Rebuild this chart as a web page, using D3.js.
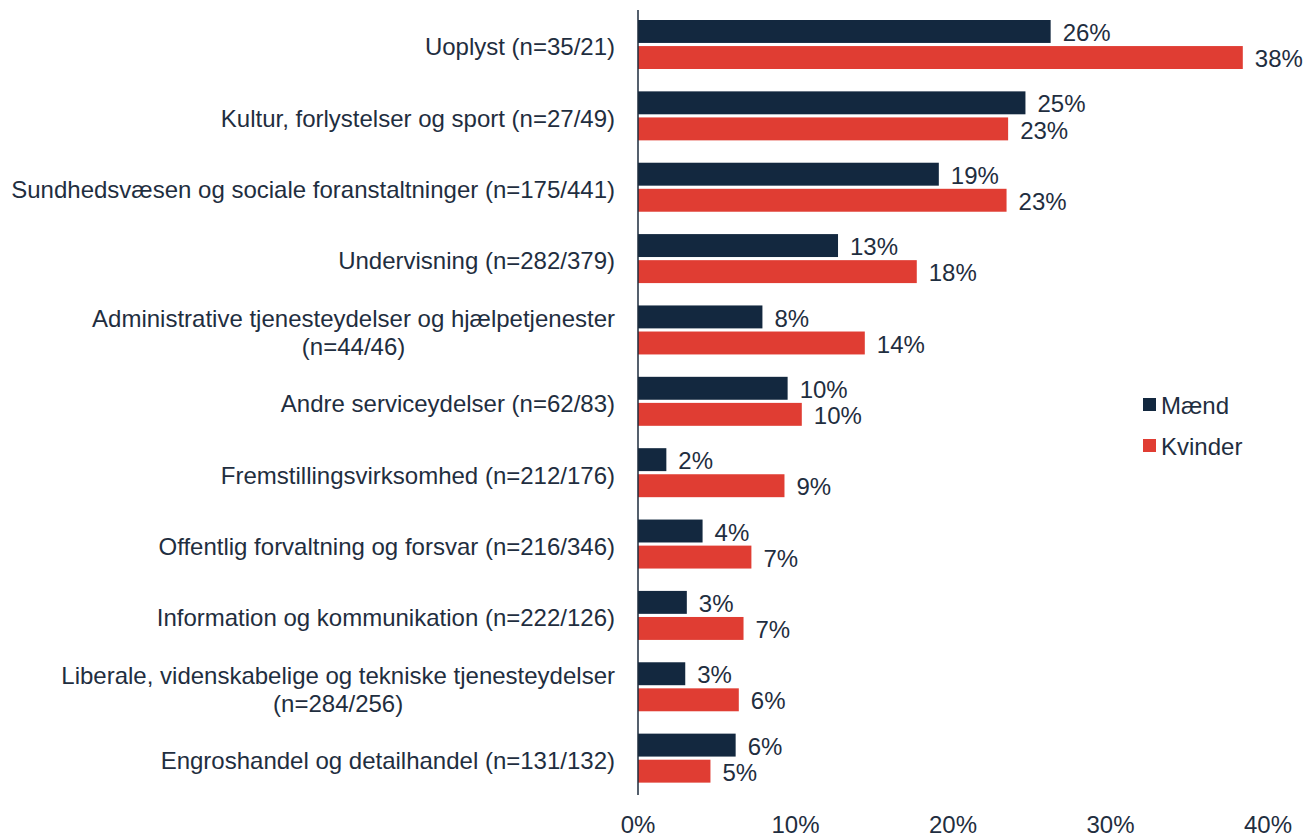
<!DOCTYPE html>
<html>
<head>
<meta charset="utf-8">
<script src="https://cdn.jsdelivr.net/npm/d3@7"></script>
<style>
  body { margin: 0; background: #fff; }
  svg { font-family: "Liberation Sans", Arial, sans-serif; }
</style>
</head>
<body>
<div id="chart"></div>
<script>
// 行业类别（标签可能分成两行）
const categories = [
  ["Uoplyst (n=35/21)"],
  ["Kultur, forlystelser og sport (n=27/49)"],
  ["Sundhedsvæsen og sociale foranstaltninger (n=175/441)"],
  ["Undervisning (n=282/379)"],
  ["Administrative tjenesteydelser og hjælpetjenester", "(n=44/46)"],
  ["Andre serviceydelser (n=62/83)"],
  ["Fremstillingsvirksomhed (n=212/176)"],
  ["Offentlig forvaltning og forsvar (n=216/346)"],
  ["Information og kommunikation (n=222/126)"],
  ["Liberale, videnskabelige og tekniske tjenesteydelser", "(n=284/256)"],
  ["Engroshandel og detailhandel (n=131/132)"]
];
const series = ["Mænd", "Kvinder"];
const maend   = [26.2, 24.6, 19.1, 12.7, 7.9, 9.5, 1.8, 4.1, 3.1, 3.0, 6.2];
const kvinder = [38.4, 23.5, 23.4, 17.7, 14.4, 10.4, 9.3, 7.2, 6.7, 6.4, 4.6];
const maendLabels   = ["26%","25%","19%","13%","8%","10%","2%","4%","3%","3%","6%"];
const kvinderLabels = ["38%","23%","23%","18%","14%","10%","9%","7%","7%","6%","5%"];
const xTicks = [0, 10, 20, 30, 40];

const width = 1303, height = 837;
const colors = { "Mænd": "#13283f", "Kvinder": "#e03d33" };
const textColor = "#1f2e40";
const fs = "24px";

const svg = d3.select("#chart").append("svg")
  .attr("width", width).attr("height", height);

const x = d3.scaleLinear().domain([0, 40]).range([638, 1268]);
const keys = categories.map((c, i) => i);
const y = d3.scaleBand().domain(keys).range([10, 795]);
const y1 = d3.scaleBand().domain(series).range([10, 59]).paddingInner(0.12);

const rows = keys.map(i => ({
  i,
  values: [
    { s: "Mænd", v: maend[i], label: maendLabels[i] },
    { s: "Kvinder", v: kvinder[i], label: kvinderLabels[i] }
  ]
}));

// 柱子
const g = svg.append("g").selectAll("g")
  .data(rows).enter().append("g")
  .attr("transform", d => `translate(0,${y(d.i)})`);

g.selectAll("rect")
  .data(d => d.values).enter().append("rect")
  .attr("x", x(0))
  .attr("y", d => y1(d.s))
  .attr("width", d => x(d.v) - x(0))
  .attr("height", y1.bandwidth())
  .attr("fill", d => colors[d.s]);

// 数值标签
g.selectAll("text.val")
  .data(d => d.values).enter().append("text")
  .attr("class", "val")
  .attr("x", d => x(d.v) + 12)
  .attr("y", d => y1(d.s) + y1.bandwidth() / 2 + 1)
  .attr("dy", "0.36em")
  .attr("font-size", fs)
  .attr("fill", textColor)
  .text(d => d.label);

// 类别标签：整体右对齐，多行居中
const labelRight = 615;
const lineH = 28;
categories.forEach((lines, i) => {
  const t = svg.append("text")
    .attr("font-size", fs)
    .attr("fill", textColor);
  const cy = y(i) + y.bandwidth() / 2 + 1;
  const probe = svg.append("text").attr("font-size", fs);
  const widths = lines.map(l => { probe.text(l); return probe.node().getComputedTextLength(); });
  probe.remove();
  const maxW = d3.max(widths);
  const cx = labelRight - maxW / 2;
  lines.forEach((l, k) => {
    t.append("tspan")
      .attr("x", lines.length > 1 ? cx : labelRight)
      .attr("text-anchor", lines.length > 1 ? "middle" : "end")
      .attr("y", cy + (k - (lines.length - 1) / 2) * lineH)
      .attr("dy", "0.36em")
      .text(l);
  });
});

// 纵轴线
svg.append("line")
  .attr("x1", x(0)).attr("x2", x(0))
  .attr("y1", 10).attr("y2", 795)
  .attr("stroke", "#1c2b3c").attr("stroke-width", 1.5);

// x 轴刻度标签
svg.append("g").selectAll("text")
  .data(xTicks).enter().append("text")
  .attr("x", d => x(d))
  .attr("y", 833)
  .attr("text-anchor", "middle")
  .attr("font-size", fs)
  .attr("fill", textColor)
  .text(d => d + "%");

// 图例
const legend = svg.append("g").attr("transform", "translate(1143,398)");
series.forEach((s, i) => {
  legend.append("rect")
    .attr("x", 0).attr("y", i * 41)
    .attr("width", 13).attr("height", 13)
    .attr("fill", colors[s]);
  legend.append("text")
    .attr("x", 18).attr("y", i * 41 + 7)
    .attr("dy", "0.36em")
    .attr("font-size", fs)
    .attr("fill", textColor)
    .text(s);
});
</script>
</body>
</html>
